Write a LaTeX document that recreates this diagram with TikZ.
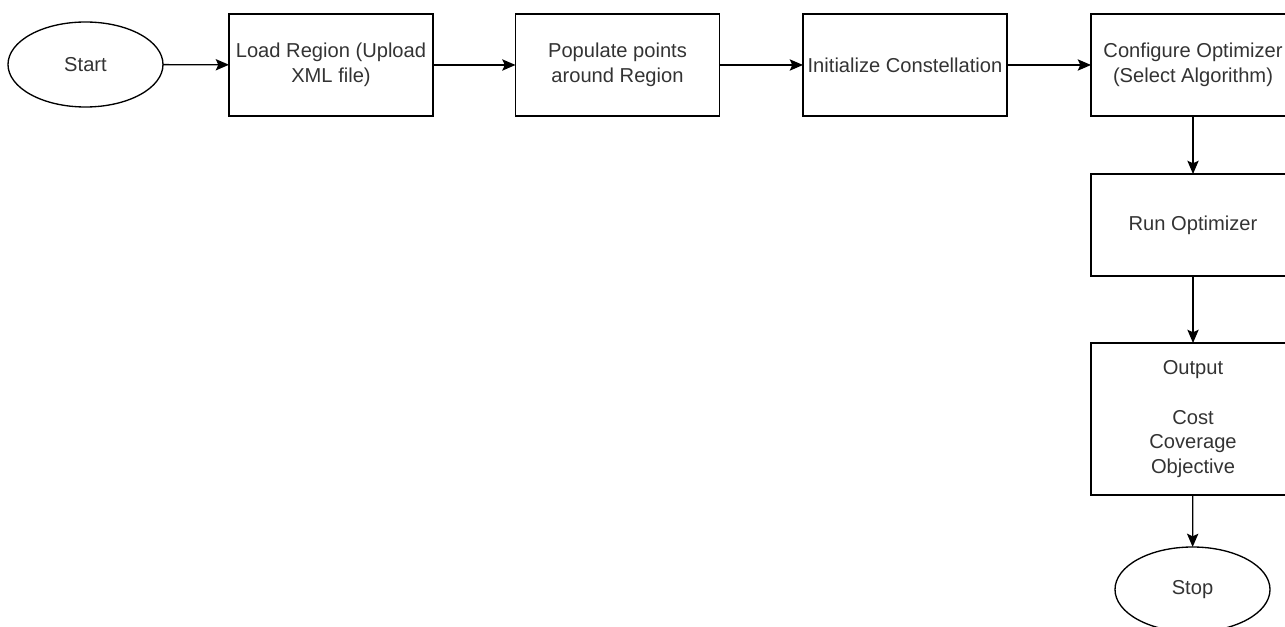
\documentclass[tikz,border=0pt]{standalone}
\usepackage{fontspec}
\setmainfont{Liberation Sans}
\usetikzlibrary{shapes.geometric,arrows.meta}

\begin{document}
\begin{tikzpicture}[x=0.75pt,y=-0.75pt,
  every node/.style={font=\fontsize{15.1}{18.5}\selectfont, text=black!80, inner sep=0pt, outer sep=0pt},
  stepbox/.style={draw=black, line width=1pt, minimum width=153pt, minimum height=76.5pt, align=center},
  terminal/.style={draw=black, line width=1pt, ellipse, minimum width=116.25pt, minimum height=63.75pt},
  flow/.style={-{Stealth[length=10pt,width=8.5pt,inset=2pt]}, line width=1pt}]
\clip (0,0) rectangle (1285,627);
\node[terminal] (start) at (85.5,64.5) {Start};
\node[stepbox] (load) at (331,65) {Load Region (Upload\\XML file)};
\node[stepbox] (populate) at (617.5,65) {Populate points\\around Region};
\node[stepbox] (init) at (905,65) {Initialize Constellation};
\node[stepbox] (config) at (1193,65) {Configure Optimizer\\(Select Algorithm)};
\node[stepbox] (run) at (1193,225) {Run Optimizer};
\node[stepbox, minimum height=114pt] (output) at (1193,419) {Output\\[19pt]Cost\\Coverage\\Objective};
\node[terminal] (stop) at (1192.5,589.5) {Stop};

\draw[flow] (start) -- (load);
\draw[flow] (load) -- (populate);
\draw[flow] (populate) -- (init);
\draw[flow] (init) -- (config);
\draw[flow] (config) -- (run);
\draw[flow] (run) -- (output);
\draw[flow] (output) -- (stop);
\end{tikzpicture}
\end{document}
